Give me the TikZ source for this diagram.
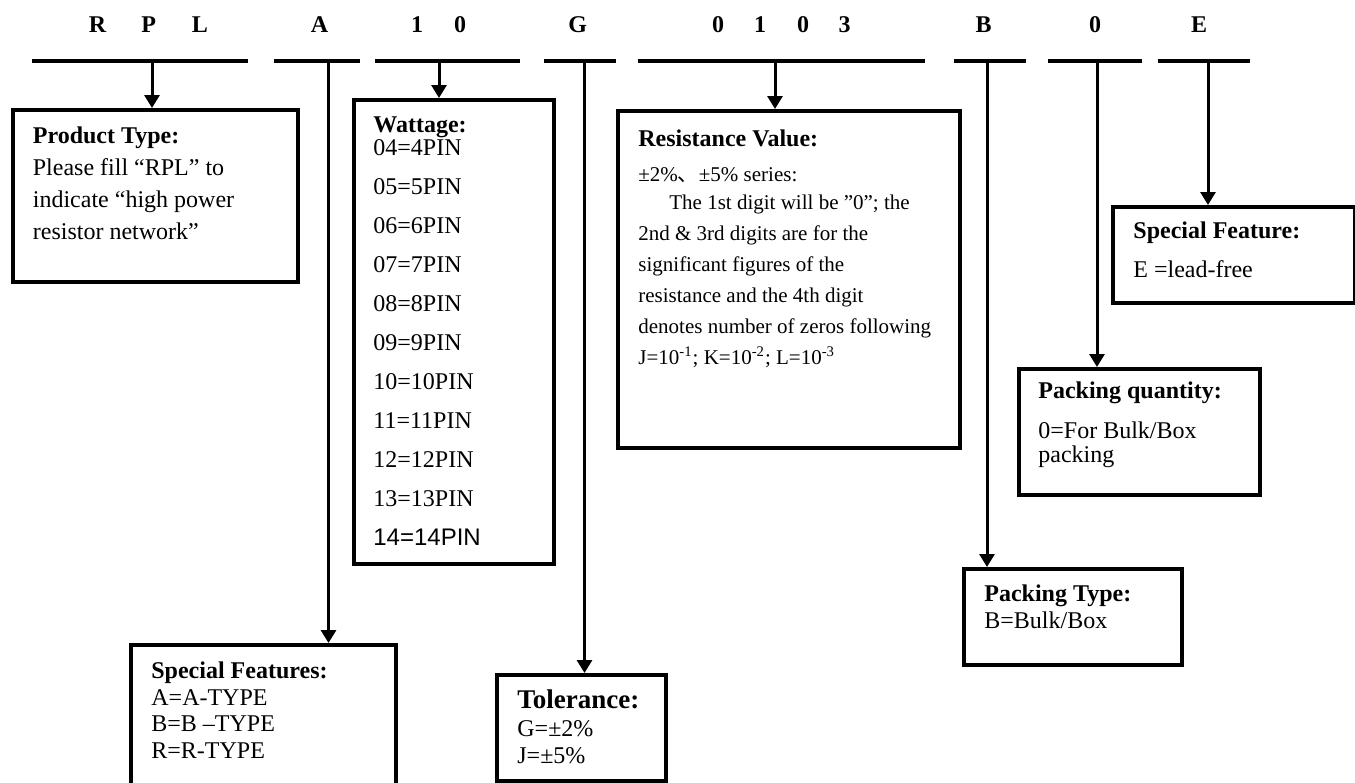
\documentclass[tikz,border=0pt]{standalone}
\usepackage{fontspec}
\setmainfont{Liberation Serif}
\newfontfamily\arialfont{Liberation Sans}
\newfontfamily\cjkfont{Noto Sans CJK SC}
\usetikzlibrary{arrows.meta}

\begin{document}
\begin{tikzpicture} [x=0.5pt, y=-0.5pt,
    codechar/.style={font=\fontsize{12}{14}\selectfont\bfseries, inner sep=0pt},
    bar/.style={line width=1.6pt},
    box/.style={draw, line width=1.8pt, anchor=north west, inner sep=0pt},
    txt/.style={anchor=north west, inner sep=0pt, align=left},
    >={Triangle[length=6.5pt,width=7.5pt]}
  ]
  \useasboundingbox (0,0) rectangle (1355,782);
  \clip (0,0) rectangle (1355,782);

  % code letters
  \node[codechar] (cR) at (97.6,25) {R};
  \node[codechar] (cP) at (148.7,25) {P};
  \node[codechar] (cL) at (200,25) {L};
  \node[codechar] (cA) at (319.6,25) {A};
  \node[codechar] (cW1) at (417,25) {1};
  \node[codechar] (cW2) at (460,25) {0};
  \node[codechar] (cG) at (577.6,25) {G};
  \node[codechar] (cV1) at (718,25) {0};
  \node[codechar] (cV2) at (760,25) {1};
  \node[codechar] (cV3) at (803,25) {0};
  \node[codechar] (cV4) at (844.6,25) {3};
  \node[codechar] (cB) at (983.7,25) {B};
  \node[codechar] (cQ) at (1095,25) {0};
  \node[codechar] (cE) at (1199,25) {E};

  % underlines
  \draw[bar] (32,61) -- (248,61);
  \draw[bar] (274,61) -- (360,61);
  \draw[bar] (375,61) -- (520,61);
  \draw[bar] (544,61) -- (616,61);
  \draw[bar] (638,61) -- (925,61);
  \draw[bar] (954,61) -- (1026,61);
  \draw[bar] (1048,61) -- (1142,61);
  \draw[bar] (1158,61) -- (1250,61);

  % boxes
  \node[box, minimum width=142.5pt, minimum height=86pt] (ptype) at (11,108) {};
  \node[box, minimum width=100pt, minimum height=232pt] (watt) at (352,98) {};
  \node[box, minimum width=171pt, minimum height=168.5pt] (resval) at (616,109) {};
  \node[box, minimum width=132.5pt, minimum height=80pt] (spfeats) at (129,643) {};
  \node[box, minimum width=84.5pt, minimum height=53pt] (tol) at (495,673) {};
  \node[box, minimum width=109pt, minimum height=48pt] (packtype) at (962,567) {};
  \node[box, minimum width=120.5pt, minimum height=63pt] (packqty) at (1017,367) {};
  \node[box, minimum width=121pt, minimum height=48pt] (spfeat) at (1111,205) {};

  % texts
  \node[txt, font=\fontsize{12}{16}\selectfont] (ptypetxt) at (32.5,126.5)
    {\textbf{Product Type:}\\Please fill “RPL” to\\indicate “high power\\resistor network”};
  \node[txt, font=\fontsize{12}{19.5}\selectfont] (watttxt) at (373,116.5)
    {\textbf{Wattage:}\\[-8pt]04=4PIN\\05=5PIN\\06=6PIN\\07=7PIN\\08=8PIN\\09=9PIN\\
     10=10PIN\\11=11PIN\\12=12PIN\\13=13PIN\\{\arialfont 14=14PIN}};
  \node[txt, font=\fontsize{10.5}{15.5}\selectfont] (resvaltxt) at (638,129.5)
    {{\fontsize{12}{15}\selectfont\bfseries Resistance Value:}\\[2pt]
     ±2\%{\cjkfont 、}±5\% series:\\[-1.5pt]
     \hspace*{15.5pt}The 1st digit will be ”0”; the\\
     2nd \& 3rd digits are for the\\
     significant figures of the\\
     resistance and the 4th digit\\
     denotes number of zeros following\\
     J=10\textsuperscript{-1}; K=10\textsuperscript{-2}; L=10\textsuperscript{-3}};
  \node[txt, font=\fontsize{12}{13.3}\selectfont] (spfeatstxt) at (151,661.5)
    {\textbf{Special Features:}\\A=A-TYPE\\B=B –TYPE\\R=R-TYPE};
  \node[txt, font=\fontsize{12}{13.75}\selectfont] (toltxt) at (517,689.5)
    {{\fontsize{13.5}{14}\selectfont\bfseries Tolerance:}\\G=±2\%\\J=±5\%};
  \node[txt, font=\fontsize{12}{13.5}\selectfont] (packtypetxt) at (984,584.5)
    {\textbf{Packing Type:}\\B=Bulk/Box};
  \node[txt, font=\fontsize{12}{12}\selectfont] (packqtytxt) at (1038,381.5)
    {\textbf{Packing quantity:}\\[8pt]0=For Bulk/Box\\packing};
  \node[txt, font=\fontsize{12}{12}\selectfont] (spfeattxt) at (1133,221.5)
    {\textbf{Special Feature:}\\[7.5pt]E =lead-free};

  % arrows
  \coordinate (uRPL) at (152,61);
  \coordinate (uA) at (328.5,61);
  \coordinate (uW) at (439,61);
  \coordinate (uG) at (584.5,61);
  \coordinate (uV) at (775,61);
  \coordinate (uB) at (987,61);
  \coordinate (uQ) at (1097,61);
  \coordinate (uE) at (1208,61);
  \path[->, line width=1.5pt]
  (uRPL) edge (uRPL |- ptype.north)
  (uA) edge (uA |- spfeats.north)
  (uW) edge (uW |- watt.north)
  (uG) edge (uG |- tol.north)
  (uV) edge (uV |- resval.north)
  (uB) edge (uB |- packtype.north)
  (uQ) edge (uQ |- packqty.north)
  (uE) edge (uE |- spfeat.north)
  ;
\end{tikzpicture}
\end{document}
